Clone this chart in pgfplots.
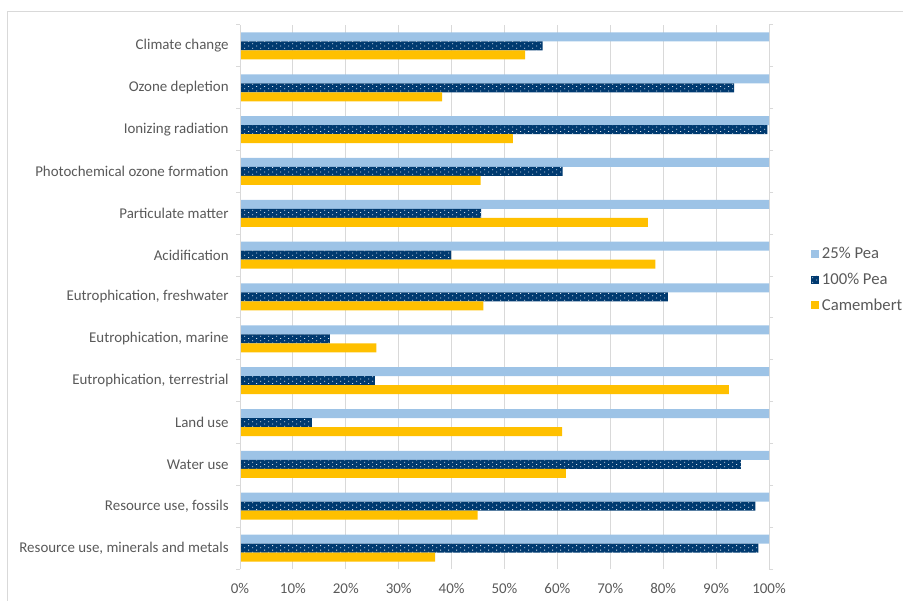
\documentclass[border=0pt]{standalone}
\usepackage{pgfplots}
\pgfplotsset{compat=1.18}
\usepackage{fontspec}
\setmainfont{Carlito}
\usetikzlibrary{patterns}
\definecolor{lblue}{HTML}{9DC3E6}
\definecolor{navy}{HTML}{003A70}
\definecolor{gold}{HTML}{FFC000}
\definecolor{txt}{HTML}{595959}
\definecolor{gridc}{HTML}{D9D9D9}
\pgfdeclarepatternformonly{sparsedots}{\pgfqpoint{-1pt}{-1pt}}{\pgfqpoint{7pt}{4pt}}{\pgfqpoint{6pt}{3.375pt}}{%
  \pgfpathrectangle{\pgfqpoint{0pt}{0pt}}{\pgfqpoint{0.9pt}{0.7pt}}%
  \pgfpathrectangle{\pgfqpoint{3pt}{1.69pt}}{\pgfqpoint{0.9pt}{0.7pt}}%
  \pgfusepath{fill}}
\begin{document}
\begin{tikzpicture}
\path[use as bounding box] (0pt,0pt) rectangle (677.25pt,450pt);
\draw[gridc, line width=0.75pt] (712pt,441pt) -- (5.25pt,441pt) -- (5.25pt,-40pt);
\begin{axis}[
  at={(180pt,23.25pt)}, anchor=south west,
  scale only axis, width=396.75pt, height=408pt,
  xmin=0, xmax=100, ymin=-0.5, ymax=12.5,
  xtick={0,10,...,100},
  xticklabel={\pgfmathprintnumber{\tick}\%},
  xmajorgrids, grid style={gridc, line width=0.75pt},
  ytick={0,...,12},
  yticklabels={Resource use{,} minerals and metals, Resource use{,} fossils, Water use, Land use, {Eutrophication, terrestrial}, {Eutrophication, marine}, {Eutrophication, freshwater}, Acidification, Particulate matter, Photochemical ozone formation, Ionizing radiation, Ozone depletion, Climate change},
  extra y ticks={-0.5,0.5,...,12.5},
  extra y tick labels={},
  extra y tick style={major tick length=3pt, tick align=outside, tick style={gridc, line width=0.75pt}},
  major tick length=0pt,
  axis line style={draw=none},
  x axis line style={draw=none},
  ticklabel style={font=\fontsize{11.2}{13}\selectfont, text=txt},
  /pgf/number format/assume math mode=true,
  yticklabel style={xshift=-5pt},
  xticklabel style={yshift=-7pt},
  xbar, bar width=6.75pt,
  legend style={at={(1,0.5)}, anchor=west, xshift=28.5pt, yshift=13pt, draw=none, fill=none,
    font=\fontsize{12.5}{15}\selectfont, text=txt, row sep=5.3pt,
    /tikz/every even column/.append style={column sep=2pt}},
  legend cell align=left,
  legend image code/.code={\draw[#1, draw=none] (0pt,-3pt) rectangle (6pt,3pt);},
  clip=false,
]
\addplot[draw=none, fill=lblue, bar shift=6.75pt] coordinates {
(100,0) (100,1) (100,2) (100,3) (100,4) (100,5) (100,6) (100,7) (100,8) (100,9) (100,10) (100,11) (100,12)};
\addlegendentry{25\% Pea}
\addplot[draw=none, fill=navy, postaction={pattern=sparsedots, pattern color=white!85!navy}, bar shift=0pt] coordinates {
(98.0,0) (97.4,1) (94.7,2) (13.6,3) (25.5,4) (17.0,5) (80.9,6) (39.9,7) (45.6,8) (61.0,9) (99.7,10) (93.4,11) (57.2,12)};
\addlegendentry{100\% Pea}
\addplot[draw=none, fill=gold, bar shift=-6.75pt] coordinates {
(36.9,0) (44.9,1) (61.6,2) (60.9,3) (92.4,4) (25.8,5) (46.0,6) (78.5,7) (77.1,8) (45.5,9) (51.6,10) (38.2,11) (53.9,12)};
\addlegendentry{Camembert}
\draw[gridc, line width=0.75pt] (axis cs:0,-0.5) -- (axis cs:0,12.5);
\end{axis}
\end{tikzpicture}
\end{document}
